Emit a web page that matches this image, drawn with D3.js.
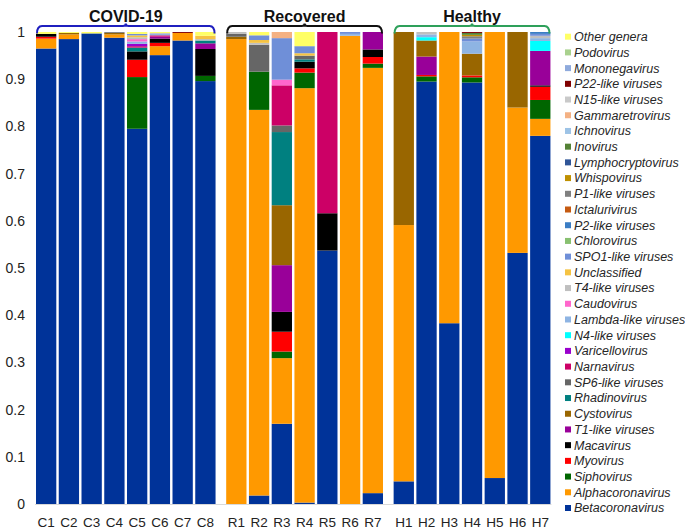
<!DOCTYPE html>
<html>
<head>
<meta charset="utf-8">
<script src="https://cdn.jsdelivr.net/npm/d3@7"></script>
<style>
  body { margin: 0; background: #fff; }
  svg { display: block; font-family: "Liberation Sans", Arial, sans-serif; }
</style>
</head>
<body>
<svg id="chart" width="685" height="531"></svg>
<script>
// ---------- data ----------
const genera = ["Betacoronavirus","Alphacoronavirus","Siphovirus","Myovirus","Macavirus","T1-like viruses","Cystovirus","Rhadinovirus","SP6-like viruses","Narnavirus","Varicellovirus","N4-like viruses","Lambda-like viruses","Caudovirus","T4-like viruses","Unclassified","SPO1-like viruses","Chlorovirus","P2-like viruses","Ictalurivirus","P1-like viruses","Whispovirus","Lymphocryptovirus","Inovirus","Ichnovirus","Gammaretrovirus","N15-like viruses","P22-like viruses","Mononegavirus","Podovirus","Other genera"];
const generaColors = ["#003399","#FF9900","#006600","#FF0000","#000000","#990099","#996600","#008080","#666666","#CC0066","#9900CC","#00FFFF","#8EB4E3","#FF66CC","#BFBFBF","#F5C342","#6F8FD8","#88C070","#3B7DC4","#C55A11","#808080","#BF9000","#2F5597","#548235","#9DC3E6","#F4B183","#C9C9C9","#800000","#8FAADC","#A9D18E","#FFFF66"];

const groupNames = ["COVID-19","Recovered","Healthy"];
const groupColors = ["#1f1fbf","#111111","#2ea05a"];

const covidSamples = ["C1","C2","C3","C4","C5","C6","C7","C8"];
const recoveredSamples = ["R1","R2","R3","R4","R5","R6","R7"];
const healthySamples = ["H1","H2","H3","H4","H5","H6","H7"];

const covidValues = [
  {"Betacoronavirus":.965,"Alphacoronavirus":.021,"Myovirus":.004,"Macavirus":.006,"Other genera":.004},
  {"Betacoronavirus":.985,"Alphacoronavirus":.010,"Cystovirus":.003,"Other genera":.002},
  {"Betacoronavirus":.997,"Other genera":.003},
  {"Betacoronavirus":.988,"Alphacoronavirus":.007,"Cystovirus":.003,"P1-like viruses":.002},
  {"Betacoronavirus":.795,"Siphovirus":.1095,"Myovirus":.0367,"Macavirus":.0177,"Rhadinovirus":.008,"Narnavirus":.003,"Varicellovirus":.005,"Lambda-like viruses":.005,"Caudovirus":.005,"T4-like viruses":.004,"Unclassified":.004,"SPO1-like viruses":.003,"Other genera":.004},
  {"Betacoronavirus":.951,"Alphacoronavirus":.019,"Myovirus":.007,"Macavirus":.009,"T1-like viruses":.004,"Narnavirus":.003,"Lambda-like viruses":.003,"T4-like viruses":.002,"Other genera":.002},
  {"Betacoronavirus":.982,"Alphacoronavirus":.016,"P22-like viruses":.002},
  {"Betacoronavirus":.896,"Siphovirus":.011,"Macavirus":.057,"Rhadinovirus":.006,"T1-like viruses":.012,"T4-like viruses":.003,"Unclassified":.007,"Other genera":.008}
];
const recoveredValues = [
  {"Alphacoronavirus":.985,"Cystovirus":.005,"SP6-like viruses":.006,"T4-like viruses":.004},
  {"Betacoronavirus":.018,"Alphacoronavirus":.817,"Siphovirus":.081,"SP6-like viruses":.057,"T4-like viruses":.004,"Unclassified":.006,"SPO1-like viruses":.010,"Other genera":.007},
  {"Betacoronavirus":.170,"Alphacoronavirus":.139,"Siphovirus":.014,"Myovirus":.042,"Macavirus":.042,"T1-like viruses":.099,"Cystovirus":.127,"Rhadinovirus":.155,"SP6-like viruses":.014,"Narnavirus":.085,"Caudovirus":.012,"SPO1-like viruses":.088,"Gammaretrovirus":.013},
  {"Betacoronavirus":.003,"Alphacoronavirus":.878,"Siphovirus":.033,"Myovirus":.009,"Macavirus":.014,"Rhadinovirus":.005,"SP6-like viruses":.008,"Unclassified":.005,"SPO1-like viruses":.015,"Other genera":.030},
  {"Betacoronavirus":.537,"Macavirus":.079,"Narnavirus":.384},
  {"Alphacoronavirus":.992,"Lambda-like viruses":.004,"SPO1-like viruses":.004},
  {"Betacoronavirus":.023,"Alphacoronavirus":.901,"Siphovirus":.009,"Myovirus":.014,"Macavirus":.016,"T1-like viruses":.037}
];
const healthyValues = [
  {"Betacoronavirus":.048,"Alphacoronavirus":.543,"Cystovirus":.409},
  {"Betacoronavirus":.895,"Siphovirus":.011,"Myovirus":.003,"T1-like viruses":.039,"Cystovirus":.034,"N4-like viruses":.007,"Lambda-like viruses":.006,"T4-like viruses":.005},
  {"Betacoronavirus":.383,"Alphacoronavirus":.617},
  {"Betacoronavirus":.893,"Siphovirus":.011,"Myovirus":.004,"Cystovirus":.046,"Lambda-like viruses":.026,"SPO1-like viruses":.006,"P1-like viruses":.005,"Whispovirus":.003,"Inovirus":.004,"P22-like viruses":.002},
  {"Betacoronavirus":.055,"Alphacoronavirus":.945},
  {"Betacoronavirus":.532,"Alphacoronavirus":.308,"Cystovirus":.160},
  {"Betacoronavirus":.780,"Alphacoronavirus":.036,"Siphovirus":.040,"Myovirus":.028,"Macavirus":.003,"T1-like viruses":.073,"N4-like viruses":.021,"Lambda-like viruses":.006,"T4-like viruses":.005,"SPO1-like viruses":.004,"P2-like viruses":.004}
];
const yTicks = [0,0.1,0.2,0.3,0.4,0.5,0.6,0.7,0.8,0.9,1];

// ---------- build table ----------
const groups = [
  {name: groupNames[0], color: groupColors[0], samples: covidSamples, values: covidValues},
  {name: groupNames[1], color: groupColors[1], samples: recoveredSamples, values: recoveredValues},
  {name: groupNames[2], color: groupColors[2], samples: healthySamples, values: healthyValues}
];
const groupGap = 0.36; // extra slots between groups
const table = [];
let slot = 0;
groups.forEach((g, gi) => {
  g.firstSlot = slot;
  g.samples.forEach((s, i) => {
    const row = {sample: s, group: g.name, slot: slot};
    genera.forEach(k => row[k] = g.values[i][k] || 0);
    table.push(row);
    slot += 1;
  });
  g.lastSlot = slot - 1;
  slot += groupGap;
});

// ---------- scales ----------
const svg = d3.select("#chart");
const y = d3.scaleLinear().domain([0, 1]).range([504, 32]);
const x = d3.scaleLinear().domain([0, 1]).range([36, 58.75]); // slot -> left edge
const barW = 20.3;
const color = d3.scaleOrdinal().domain(genera).range(generaColors);

const stack = d3.stack().keys(genera);
const series = stack(table);

// baseline
svg.append("line")
  .attr("x1", x(0) - 1).attr("x2", x(slot - groupGap - 1) + barW + 1)
  .attr("y1", y(0) + 0.5).attr("y2", y(0) + 0.5)
  .attr("stroke", "#d9d9d9").attr("stroke-width", 1);

// bars
svg.append("g").selectAll("g").data(series).join("g")
  .attr("fill", d => color(d.key))
  .selectAll("rect").data(d => d.filter(p => p[1] - p[0] > 0)).join("rect")
  .attr("x", d => x(d.data.slot))
  .attr("width", barW)
  .attr("y", d => y(d[1]))
  .attr("height", d => y(d[0]) - y(d[1]));

// y axis (labels only)
const yAxis = d3.axisLeft(y).tickValues(yTicks).tickSize(0).tickPadding(0)
  .tickFormat(d => d3.format("~g")(d));
const yg = svg.append("g").attr("transform", "translate(25,0)").call(yAxis);
yg.select(".domain").remove();
yg.selectAll("text").attr("font-size", 14).attr("fill", "#222")
  .attr("font-family", "'Liberation Sans', Arial, sans-serif");

// x labels
const xg = svg.append("g");
xg.selectAll("text").data(table).join("text")
  .attr("x", d => x(d.slot) + barW / 2)
  .attr("y", 526.5)
  .attr("text-anchor", "middle")
  .attr("font-size", 13.5)
  .attr("fill", "#222")
  .text(d => d.sample);

// group brackets and titles
groups.forEach(g => {
  const x0 = x(g.firstSlot) + 1, x1 = x(g.lastSlot) + barW - 1, xm = (x0 + x1) / 2;
  const yb = 26, yd = 33.5;
  const p = d3.path();
  p.moveTo(x0, yd);
  p.quadraticCurveTo(x0, yb, x0 + 5, yb);
  p.lineTo(xm - 3, yb);
  p.quadraticCurveTo(xm, yb, xm, yb - 2.5);
  p.quadraticCurveTo(xm, yb, xm + 3, yb);
  p.lineTo(x1 - 5, yb);
  p.quadraticCurveTo(x1, yb, x1, yd);
  svg.append("path").attr("d", p.toString())
    .attr("fill", "none").attr("stroke", g.color).attr("stroke-width", 2);
  svg.append("text")
    .attr("x", xm).attr("y", 21.5)
    .attr("text-anchor", "middle")
    .attr("font-size", 16).attr("font-weight", "bold").attr("fill", "#111")
    .text(g.name);
});

// legend
const legendItems = genera.slice().reverse();
const lg = svg.append("g");
const legY = d3.scaleLinear().domain([0, legendItems.length - 1]).range([36.7, 508]);
const li = lg.selectAll("g").data(legendItems).join("g")
  .attr("transform", (d, i) => `translate(565,${legY(i)})`);
li.append("rect").attr("x", 0).attr("y", -3).attr("width", 6).attr("height", 6)
  .attr("fill", d => color(d));
li.append("text").attr("x", 9).attr("y", 4.4)
  .attr("font-size", 12.5).attr("font-style", "italic").attr("fill", "#262626")
  .text(d => d);
</script>
</body>
</html>
